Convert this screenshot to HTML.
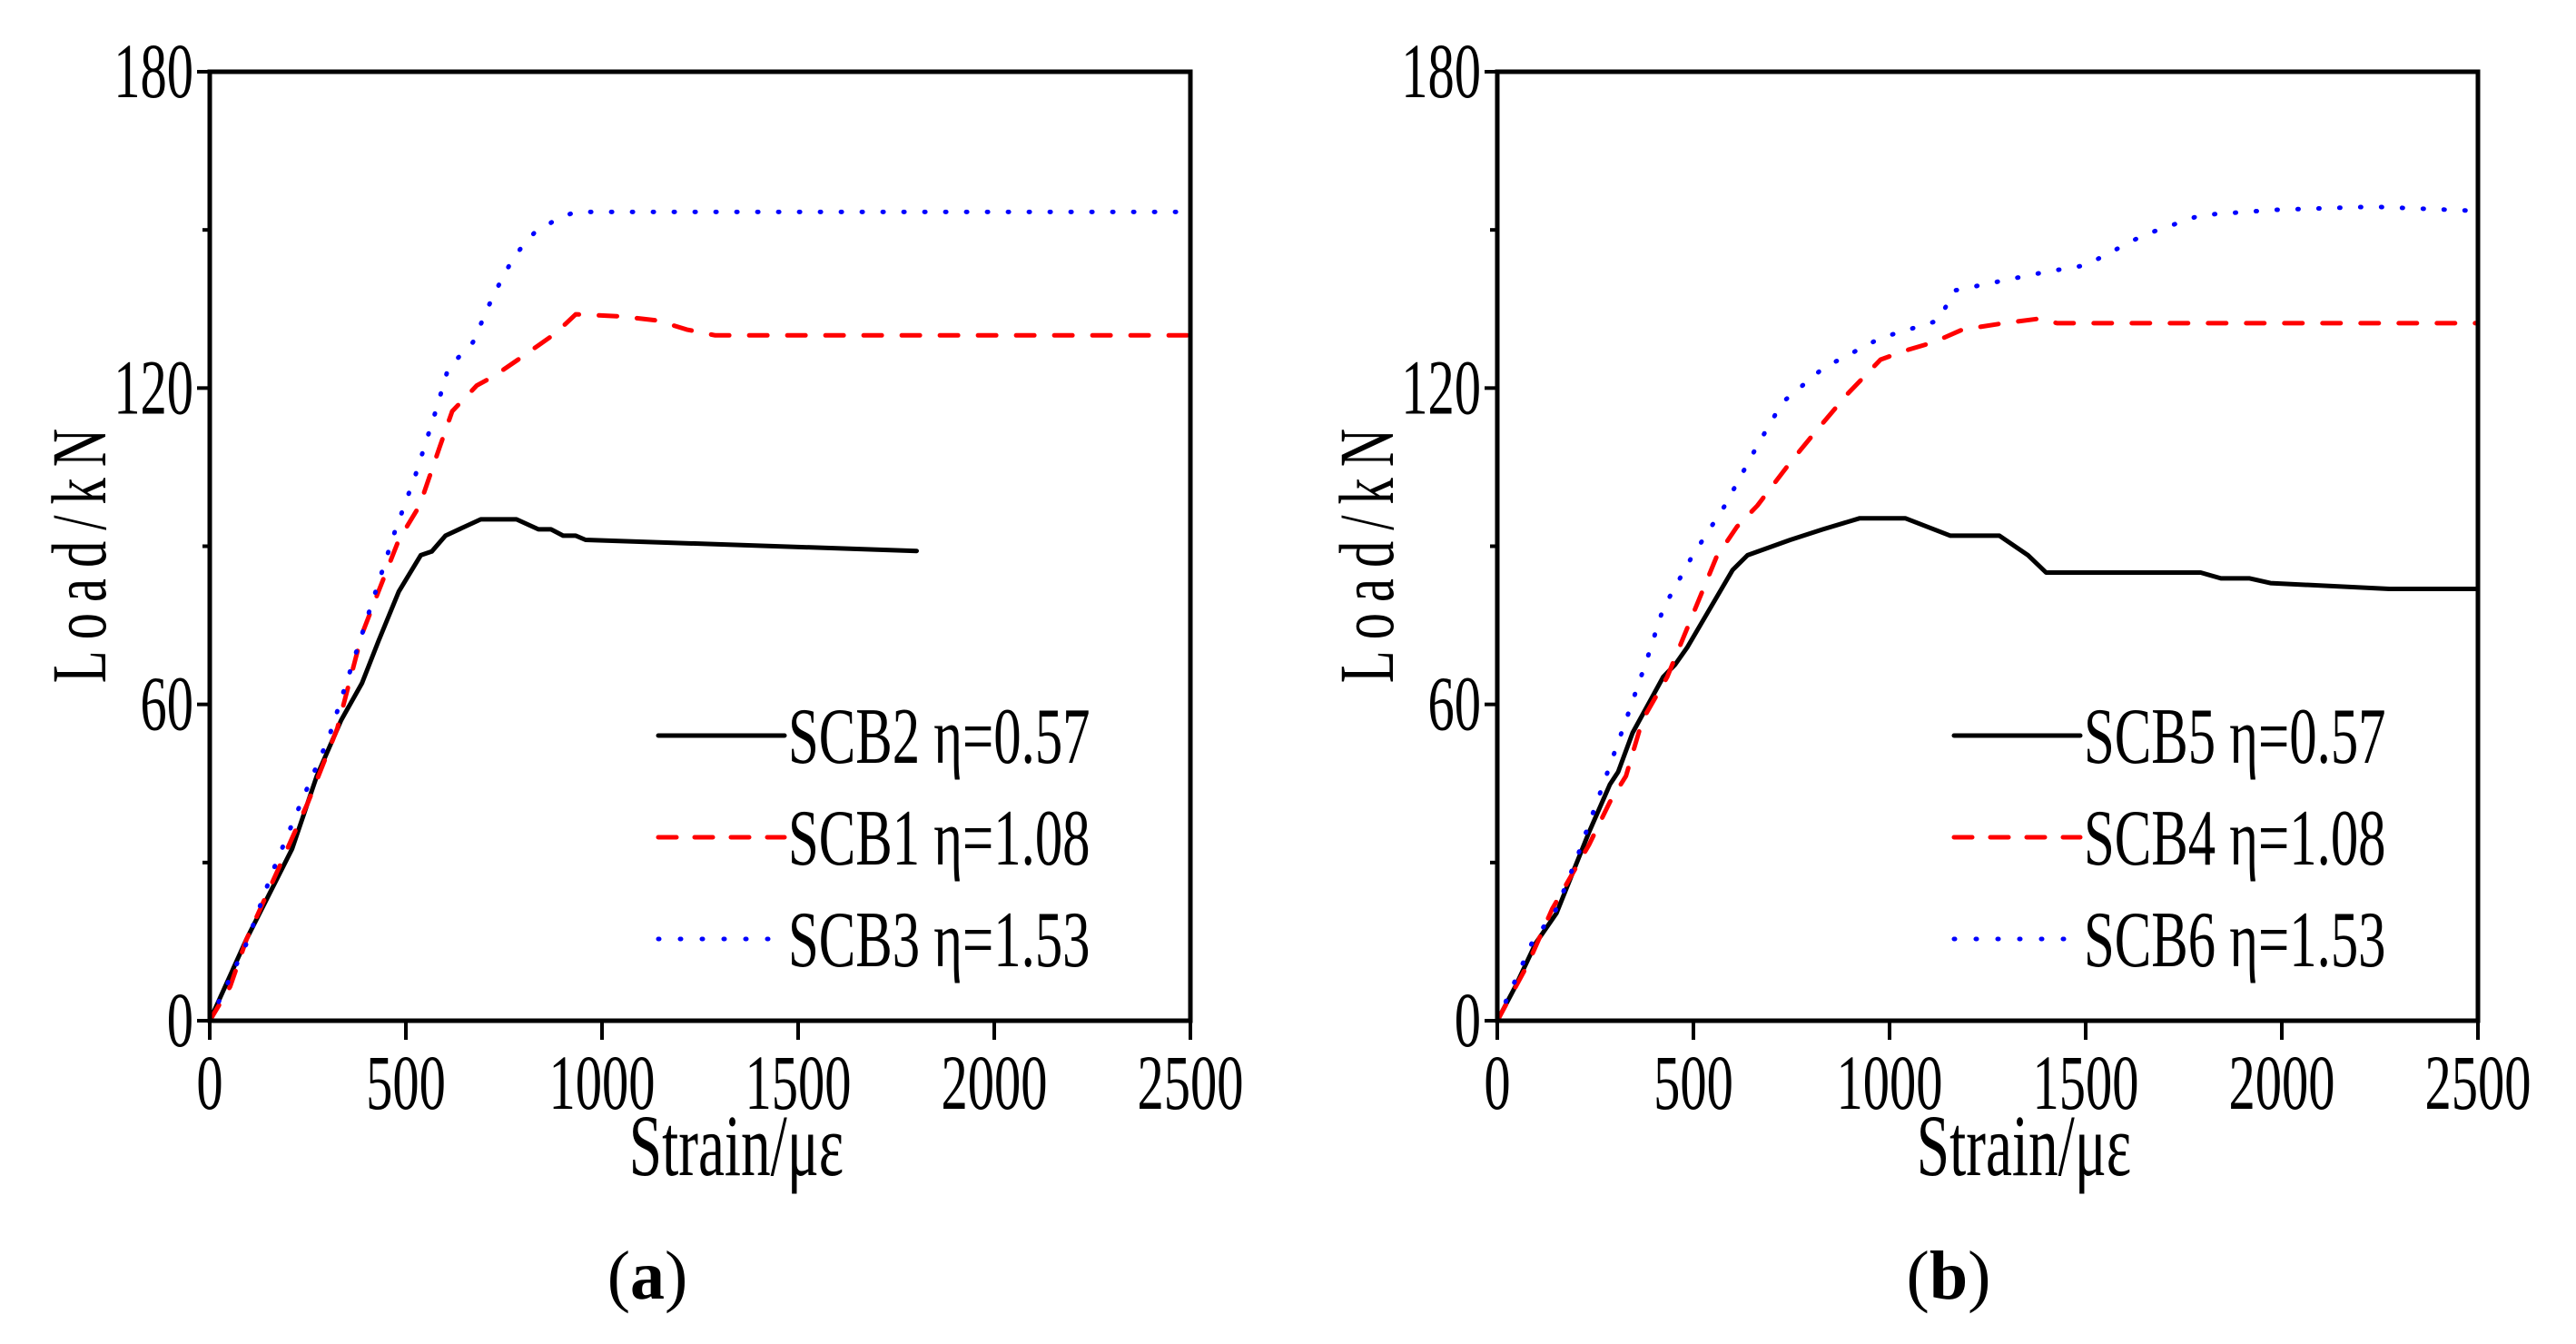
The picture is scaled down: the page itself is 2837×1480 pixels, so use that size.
<!DOCTYPE html>
<html><head><meta charset="utf-8"><style>
html,body{margin:0;padding:0;background:#fff;}
svg{display:block;}
text{font-family:"Liberation Serif","DejaVu Serif",serif;fill:#000;}
</style></head><body>
<svg id="chart" width="2837" height="1480" viewBox="0 0 2837 1480" xmlns="http://www.w3.org/2000/svg"></svg>
<script>
// ---- data (strain in με, load in kN) ----
const xTicks = [0, 500, 1000, 1500, 2000, 2500];
const yTicks = [0, 60, 120, 180];
const yMinorTicks = [30, 90, 150];

const scb2X = [0,94,210,273,335,388,430,482,538,566,601,650,691,782,838,870,901,933,958,1802];
const scb2Y = [0,15.5,32.6,46.4,57,64,72,81.4,88.3,89,92,93.7,95.1,95.1,93.2,93.2,92,92,91.2,89.1];
const scb1X = [0,52,94,178,251,325,388,430,482,535,587,618,681,723,786,880,933,1048,1142,1216,1289,2500];
const scb1Y = [0,6.5,15.5,29.3,41.5,55.4,73.3,81.4,91.2,97.7,109,115.6,120.5,122.2,125.4,130.3,134,133.6,132.8,131.1,130,130];
const scb3X = [0,94,157,220,304,388,472,524,576,608,671,723,776,828,891,933,2500];
const scb3Y = [0,14.7,27.7,39.1,53.8,73.3,92.8,103.4,115.6,123.8,128.7,137.6,145,149.5,152.3,153.4,153.4];

const scb5X = [0,46,98,151,234,287,308,345,423,454,485,600,638,747,830,924,1040,1155,1280,1353,1399,1793,1845,1918,1971,2274,2500];
const scb5Y = [0,6.5,14.7,20.4,35.8,44.8,47.2,54.6,65.2,67.6,70.9,85.5,88.3,91.2,93.2,95.3,95.3,92,92,88.3,85,85,83.9,83.9,83,81.9,81.9];
const scb4X = [0,77,140,234,287,328,370,433,496,559,611,663,747,810,893,977,1040,1113,1186,1291,1385,1427,2500];
const scb4Y = [0,10.6,21.2,33.4,41.5,46.4,57,65.2,76.6,88,93.7,97.7,105.9,111.6,118.9,125.4,127.1,128.7,131.1,132.3,133.2,132.3,132.3];
const scb6X = [0,88,151,203,266,328,381,423,496,580,663,727,831,977,1124,1166,1271,1396,1500,1647,1793,1981,2232,2500];
const scb6Y = [0,14.7,21.2,30.9,44,57,68.4,78.2,88,97.7,109.1,117.3,123.8,129.5,132.8,138.5,140.1,142,143.3,149,152.8,153.8,154.4,153.6];

const legendA = ["SCB2 η=0.57","SCB1 η=1.08","SCB3 η=1.53"];
const legendB = ["SCB5 η=0.57","SCB4 η=1.08","SCB6 η=1.53"];

const NS = "http://www.w3.org/2000/svg";
const svg = document.getElementById('chart');
function mk(tag, attrs, parent){
  const e = document.createElementNS(NS, tag);
  for (const k in attrs) e.setAttribute(k, attrs[k]);
  (parent||svg).appendChild(e);
  return e;
}
const styles = [
  {stroke:"#000", dash:null, cap:"round"},
  {stroke:"#f00", dash:"20 22", cap:"round"},
  {stroke:"#00f", dash:"1 22", cap:"round"}
];

function drawPanel(ox, name, series, legend, label, legDx){
  const x0 = 231+ox, x1 = 1311+ox, yb = 1124, yt = 79;
  const sx = v => x0 + v/2500*(x1-x0);
  const sy = v => yb - v/180*(yb-yt);
  const g = mk('g', {});
  
  

  // series
  series.forEach((s, i) => {
    const pts = s.x.map((v, j) => sx(v).toFixed(1)+','+sy(s.y[j]).toFixed(1)).join(' ');
    const a = {points:pts, fill:'none', stroke:styles[i].stroke, 'stroke-width':5, 'stroke-linejoin':'round', 'stroke-linecap':styles[i].cap};
    if (styles[i].dash) a['stroke-dasharray'] = styles[i].dash;
    const p = mk('polyline', a, g);
    
    
  });

  // frame
  const fr = mk('rect', {x:x0, y:yt, width:x1-x0, height:yb-yt, fill:'none', stroke:'#000', 'stroke-width':5}, g);
  
  

  // x ticks
  xTicks.forEach(v => {
    const t = mk('line', {x1:sx(v), x2:sx(v), y1:yb, y2:yb+21, stroke:'#000', 'stroke-width':4}, g);
    
    
    const tx = mk('text', {transform:`translate(${sx(v)},1221) scale(0.68,1)`, 'text-anchor':'middle', 'font-size':86}, g);
    tx.textContent = v;
    
    
  });
  // y ticks
  yTicks.forEach(v => {
    const t = mk('line', {x1:x0-14, x2:x0, y1:sy(v), y2:sy(v), stroke:'#000', 'stroke-width':4}, g);
    
    
    const tx = mk('text', {transform:`translate(${x0-18},${sy(v)+28}) scale(0.68,1)`, 'text-anchor':'end', 'font-size':86}, g);
    tx.textContent = v;
    
    
  });
  yMinorTicks.forEach(v => {
    const t = mk('line', {x1:x0-8, x2:x0, y1:sy(v), y2:sy(v), stroke:'#000', 'stroke-width':4}, g);
    
    
  });

  // axis titles
  const xt = mk('text', {transform:`translate(${(x0+x1)/2+40},1294) scale(0.68,1)`, 'text-anchor':'middle', 'font-size':96}, g);
  xt.textContent = 'Strain/με';
  
  
  const yt2 = mk('text', {transform:`translate(${116+ox},612) rotate(-90) scale(0.68,1)`, 'text-anchor':'middle', 'font-size':86, textLength:412, lengthAdjust:'spacing'}, g);
  yt2.textContent = 'Load/kN';
  
  

  // legend
  const lx = 725 + ox + legDx;
  legend.forEach((txt, i) => {
    const ly = 810 + i*112;
    const a = {x1:lx, x2:lx+(i===2?130:139), y1:ly, y2:ly, stroke:styles[i].stroke, 'stroke-width':5, 'stroke-linecap':'round'};
    if (styles[i].dash) a['stroke-dasharray'] = i===1 ? "20 20" : "1 23";
    const l = mk('line', a, g);
    
    
    const t = mk('text', {transform:`translate(${lx+143},${ly+30}) scale(0.69,1)`, 'font-size':88}, g);
    t.textContent = txt;
    
    
  });

  // panel label
  const pl = mk('text', {x:label.x, y:1430, 'text-anchor':'middle', 'font-size':76}, g);
  pl.innerHTML = '(<tspan font-weight="bold">' + label.t + '</tspan>)';
  
  
}

drawPanel(0, 'panel-a', [
  {name:'scb2-line', x:scb2X, y:scb2Y},
  {name:'scb1-line', x:scb1X, y:scb1Y},
  {name:'scb3-line', x:scb3X, y:scb3Y}
], legendA, {x:713, t:'a'}, 0);

drawPanel(1418, 'panel-b', [
  {name:'scb5-line', x:scb5X, y:scb5Y},
  {name:'scb4-line', x:scb4X, y:scb4Y},
  {name:'scb6-line', x:scb6X, y:scb6Y}
], legendB, {x:2146, t:'b'}, 9);
</script>
</body></html>
